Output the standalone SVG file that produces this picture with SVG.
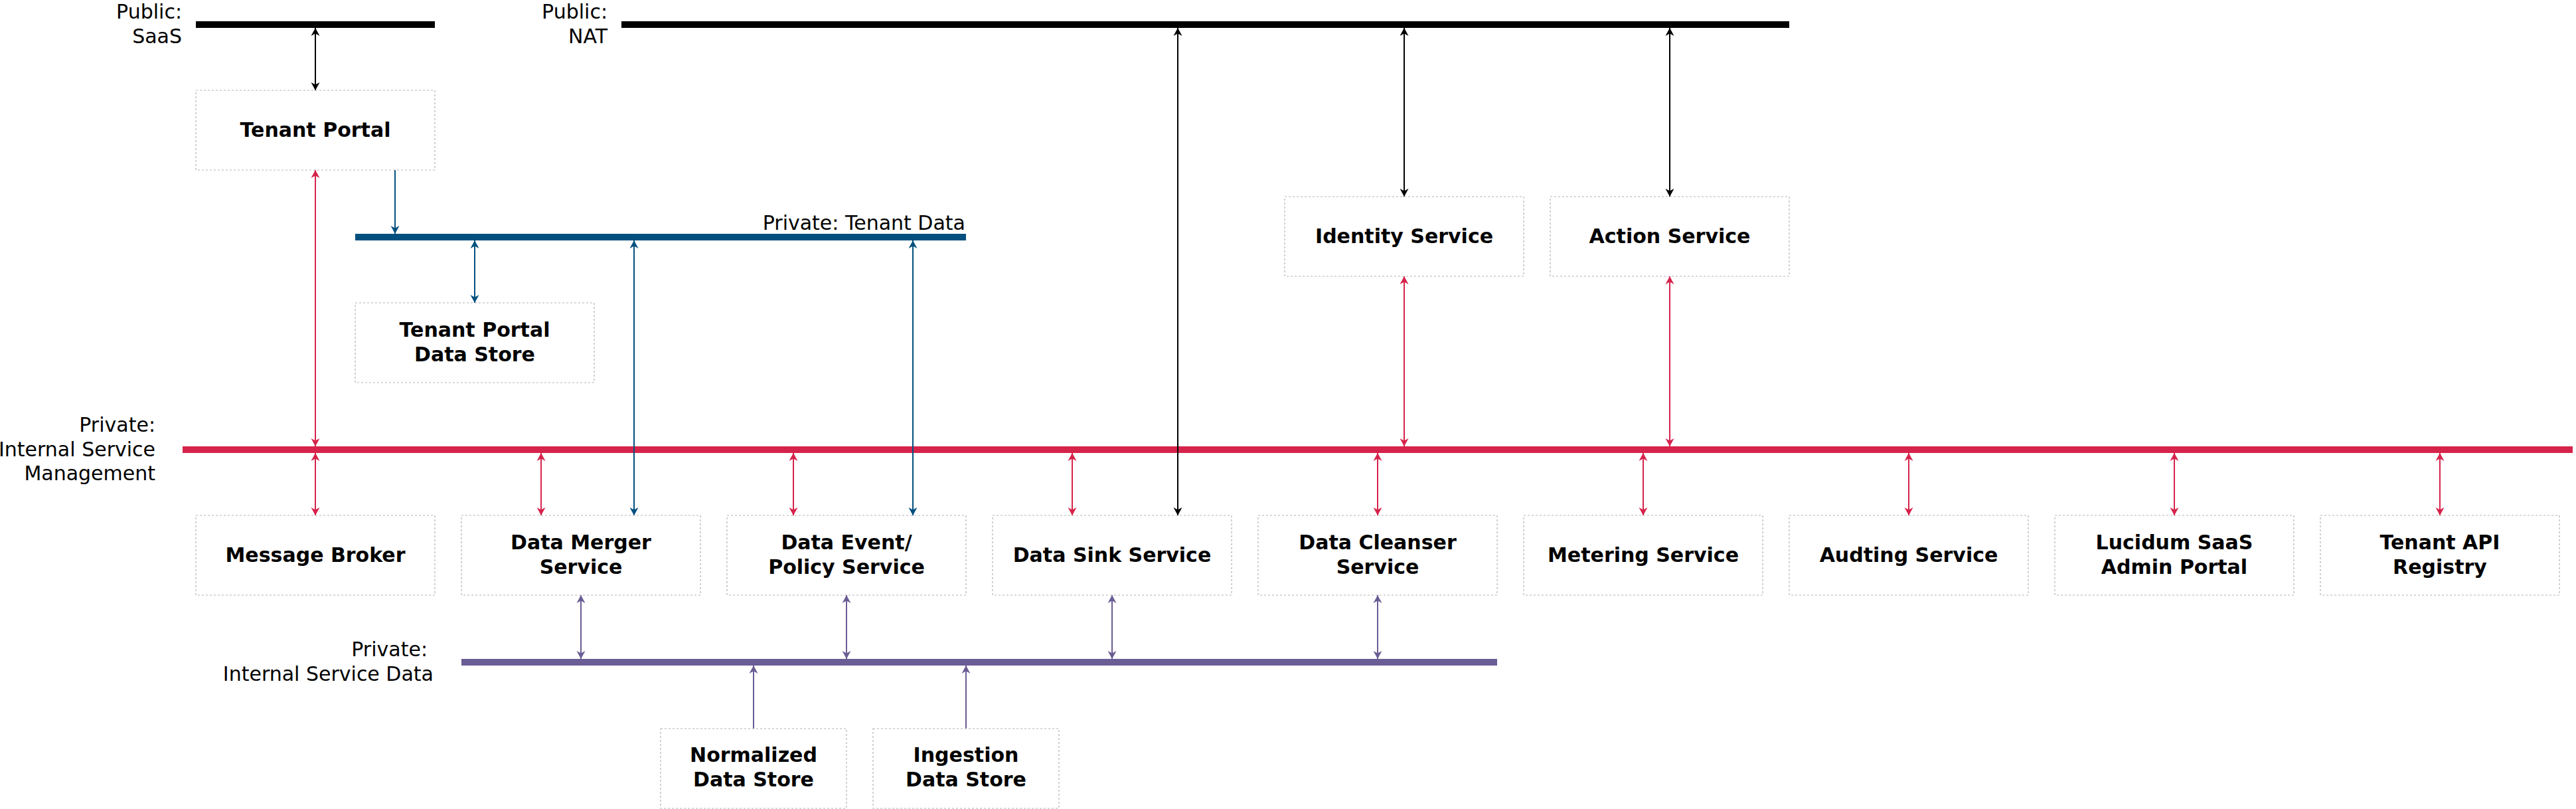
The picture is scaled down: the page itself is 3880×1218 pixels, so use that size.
<svg xmlns="http://www.w3.org/2000/svg" width="3880" height="1218" viewBox="0 0 3880 1218">
<style>
.bg{fill:#ffffff}
.box{fill:#ffffff;stroke:#b3b3b3;stroke-width:1.2;stroke-dasharray:3 3}
.lbl{font-family:"DejaVu Sans",sans-serif;font-size:30px;fill:#000000;text-anchor:end}
.nt{font-family:"DejaVu Sans",sans-serif;font-size:30px;font-weight:bold;fill:#000000;text-anchor:middle}
.bar{stroke-width:10;fill:none}
.c{fill:none;stroke-width:2}
.k{stroke:#000000}
.r{stroke:#d6234b}
.b{stroke:#03507f}
.p{stroke:#6a5c94}
</style>
<defs>
<marker id="ak" viewBox="0 0 12 14" markerWidth="12" markerHeight="14" refX="12" refY="7" orient="auto-start-reverse" markerUnits="userSpaceOnUse"><path d="M0,0.5 L12,7 L0,13.5 L3.5,7 Z" fill="#000000"/></marker>
<marker id="ar" viewBox="0 0 12 14" markerWidth="12" markerHeight="14" refX="12" refY="7" orient="auto-start-reverse" markerUnits="userSpaceOnUse"><path d="M0,0.5 L12,7 L0,13.5 L3.5,7 Z" fill="#d6234b"/></marker>
<marker id="ab" viewBox="0 0 12 14" markerWidth="12" markerHeight="14" refX="12" refY="7" orient="auto-start-reverse" markerUnits="userSpaceOnUse"><path d="M0,0.5 L12,7 L0,13.5 L3.5,7 Z" fill="#03507f"/></marker>
<marker id="ap" viewBox="0 0 12 14" markerWidth="12" markerHeight="14" refX="12" refY="7" orient="auto-start-reverse" markerUnits="userSpaceOnUse"><path d="M0,0.5 L12,7 L0,13.5 L3.5,7 Z" fill="#6a5c94"/></marker>
</defs>
<rect class="bg" x="0" y="0" width="3880" height="1218"/>

<g id="networks">
<line class="bar" x1="295" y1="37" x2="655" y2="37" stroke="#000000"/>
<line class="bar" x1="936" y1="37" x2="2695" y2="37" stroke="#000000"/>
<line class="bar" x1="535" y1="357" x2="1455" y2="357" stroke="#03507f"/>
<line class="bar" x1="275" y1="677" x2="3875" y2="677" stroke="#d6234b"/>
<line class="bar" x1="695" y1="997" x2="2255" y2="997" stroke="#6a5c94"/>
<text class="lbl" x="274" y="28">Public:</text>
<text class="lbl" x="274" y="65">SaaS</text>
<text class="lbl" x="915" y="28">Public:</text>
<text class="lbl" x="915" y="65">NAT</text>
<text class="lbl" x="1454" y="346">Private: Tenant Data</text>
<text class="lbl" x="234" y="650">Private:</text>
<text class="lbl" x="234" y="687">Internal Service</text>
<text class="lbl" x="234" y="723">Management</text>
<text class="lbl" x="644" y="988">Private:</text>
<text class="lbl" x="653" y="1025">Internal Service Data</text>
</g>

<g id="connectors">
<line class="c k" x1="475" y1="42" x2="475" y2="136" marker-start="url(#ak)" marker-end="url(#ak)"/>
<line class="c k" x1="1774" y1="42" x2="1774" y2="776" marker-start="url(#ak)" marker-end="url(#ak)"/>
<line class="c k" x1="2115" y1="42" x2="2115" y2="296" marker-start="url(#ak)" marker-end="url(#ak)"/>
<line class="c k" x1="2515" y1="42" x2="2515" y2="296" marker-start="url(#ak)" marker-end="url(#ak)"/>
<line class="c b" x1="595" y1="256" x2="595" y2="352" marker-end="url(#ab)"/>
<line class="c b" x1="715" y1="362" x2="715" y2="456" marker-start="url(#ab)" marker-end="url(#ab)"/>
<line class="c b" x1="955" y1="362" x2="955" y2="776" marker-start="url(#ab)" marker-end="url(#ab)"/>
<line class="c b" x1="1375" y1="362" x2="1375" y2="776" marker-start="url(#ab)" marker-end="url(#ab)"/>
<line class="c r" x1="475" y1="256" x2="475" y2="672" marker-start="url(#ar)" marker-end="url(#ar)"/>
<line class="c r" x1="2115" y1="416" x2="2115" y2="672" marker-start="url(#ar)" marker-end="url(#ar)"/>
<line class="c r" x1="2515" y1="416" x2="2515" y2="672" marker-start="url(#ar)" marker-end="url(#ar)"/>
<line class="c r" x1="475" y1="682" x2="475" y2="776" marker-start="url(#ar)" marker-end="url(#ar)"/>
<line class="c r" x1="815" y1="682" x2="815" y2="776" marker-start="url(#ar)" marker-end="url(#ar)"/>
<line class="c r" x1="1195" y1="682" x2="1195" y2="776" marker-start="url(#ar)" marker-end="url(#ar)"/>
<line class="c r" x1="1615" y1="682" x2="1615" y2="776" marker-start="url(#ar)" marker-end="url(#ar)"/>
<line class="c r" x1="2075" y1="682" x2="2075" y2="776" marker-start="url(#ar)" marker-end="url(#ar)"/>
<line class="c r" x1="2475" y1="682" x2="2475" y2="776" marker-start="url(#ar)" marker-end="url(#ar)"/>
<line class="c r" x1="2875" y1="682" x2="2875" y2="776" marker-start="url(#ar)" marker-end="url(#ar)"/>
<line class="c r" x1="3275" y1="682" x2="3275" y2="776" marker-start="url(#ar)" marker-end="url(#ar)"/>
<line class="c r" x1="3675" y1="682" x2="3675" y2="776" marker-start="url(#ar)" marker-end="url(#ar)"/>
<line class="c p" x1="875" y1="896" x2="875" y2="992" marker-start="url(#ap)" marker-end="url(#ap)"/>
<line class="c p" x1="1275" y1="896" x2="1275" y2="992" marker-start="url(#ap)" marker-end="url(#ap)"/>
<line class="c p" x1="1675" y1="896" x2="1675" y2="992" marker-start="url(#ap)" marker-end="url(#ap)"/>
<line class="c p" x1="2075" y1="896" x2="2075" y2="992" marker-start="url(#ap)" marker-end="url(#ap)"/>
<line class="c p" x1="1135" y1="1097" x2="1135" y2="1002" marker-end="url(#ap)"/>
<line class="c p" x1="1455" y1="1097" x2="1455" y2="1002" marker-end="url(#ap)"/>
</g>

<g id="tenant-portal"><rect class="box" x="295" y="136" width="360" height="120"/><text class="nt" x="475" y="206">Tenant Portal</text></g>
<g id="tenant-portal-data-store"><rect class="box" x="535" y="456" width="360" height="120"/><text class="nt" x="715" y="507">Tenant Portal</text><text class="nt" x="715" y="544">Data Store</text></g>
<g id="identity-service"><rect class="box" x="1935" y="296" width="360" height="120"/><text class="nt" x="2115" y="366">Identity Service</text></g>
<g id="action-service"><rect class="box" x="2335" y="296" width="360" height="120"/><text class="nt" x="2515" y="366">Action Service</text></g>
<g id="message-broker"><rect class="box" x="295" y="776" width="360" height="120"/><text class="nt" x="475" y="846">Message Broker</text></g>
<g id="data-merger-service"><rect class="box" x="695" y="776" width="360" height="120"/><text class="nt" x="875" y="827">Data Merger</text><text class="nt" x="875" y="864">Service</text></g>
<g id="data-event-policy-service"><rect class="box" x="1095" y="776" width="360" height="120"/><text class="nt" x="1275" y="827">Data Event/</text><text class="nt" x="1275" y="864">Policy Service</text></g>
<g id="data-sink-service"><rect class="box" x="1495" y="776" width="360" height="120"/><text class="nt" x="1675" y="846">Data Sink Service</text></g>
<g id="data-cleanser-service"><rect class="box" x="1895" y="776" width="360" height="120"/><text class="nt" x="2075" y="827">Data Cleanser</text><text class="nt" x="2075" y="864">Service</text></g>
<g id="metering-service"><rect class="box" x="2295" y="776" width="360" height="120"/><text class="nt" x="2475" y="846">Metering Service</text></g>
<g id="audting-service"><rect class="box" x="2695" y="776" width="360" height="120"/><text class="nt" x="2875" y="846">Audting Service</text></g>
<g id="lucidum-saas-admin-portal"><rect class="box" x="3095" y="776" width="360" height="120"/><text class="nt" x="3275" y="827">Lucidum SaaS</text><text class="nt" x="3275" y="864">Admin Portal</text></g>
<g id="tenant-api-registry"><rect class="box" x="3495" y="776" width="360" height="120"/><text class="nt" x="3675" y="827">Tenant API</text><text class="nt" x="3675" y="864">Registry</text></g>
<g id="normalized-data-store"><rect class="box" x="995" y="1097" width="280" height="120"/><text class="nt" x="1135" y="1147">Normalized</text><text class="nt" x="1135" y="1184">Data Store</text></g>
<g id="ingestion-data-store"><rect class="box" x="1315" y="1097" width="280" height="120"/><text class="nt" x="1455" y="1147">Ingestion</text><text class="nt" x="1455" y="1184">Data Store</text></g>
</svg>
